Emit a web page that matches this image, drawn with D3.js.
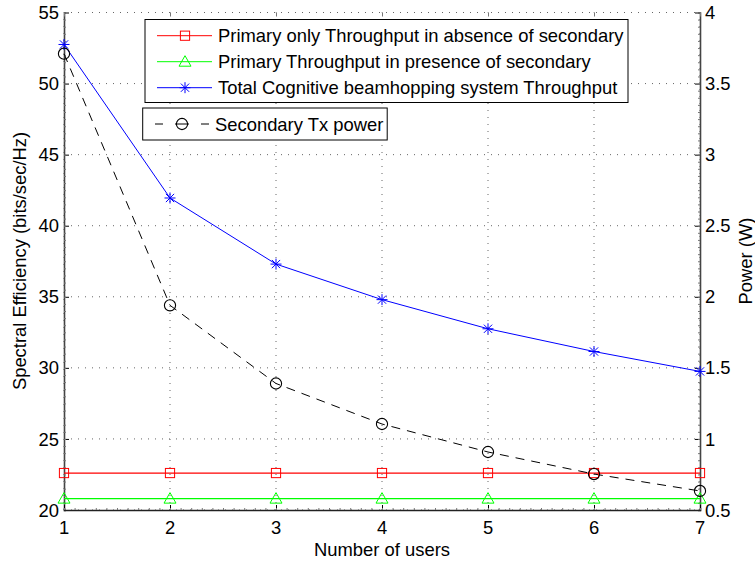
<!DOCTYPE html>
<html><head><meta charset="utf-8">
<script src="https://cdn.jsdelivr.net/npm/d3@7"></script>
<style>body{margin:0;background:#fff;} text{font-family:"Liberation Sans",Arial,sans-serif;}</style>
</head><body>
<svg id="chart" width="755" height="562"></svg>
<script>
const users = [1, 2, 3, 4, 5, 6, 7];
const primaryOnly = [22.6, 22.6, 22.6, 22.6, 22.6, 22.6, 22.6];
const primaryWithSecondary = [20.8, 20.8, 20.8, 20.8, 20.8, 20.8, 20.8];
const totalCognitive = [52.75, 41.95, 37.3, 34.8, 32.75, 31.15, 29.75];
const secondaryPower = [3.71, 1.94, 1.39, 1.105, 0.908, 0.753, 0.634];
const leftTicks = [20, 25, 30, 35, 40, 45, 50, 55];
const rightTicks = [0.5, 1, 1.5, 2, 2.5, 3, 3.5, 4];
const rightTickLabels = ["0.5", "1", "1.5", "2", "2.5", "3", "3.5", "4"];
const legend1 = ["Primary only Throughput in absence of secondary", "Primary Throughput in presence of secondary", "Total Cognitive beamhopping system Throughput"];
const legend2 = ["Secondary Tx power"];

const svg = d3.select("#chart");
const L = 64, R = 700, T = 12.5, B = 510;
const x = d3.scaleLinear().domain([1, 7]).range([L, R]);
const yL = d3.scaleLinear().domain([20, 55]).range([B, T]);
const yR = d3.scaleLinear().domain([0.5, 4]).range([B, T]);

// grid
const grid = svg.append("g").attr("stroke", "#666").attr("stroke-width", 1).attr("stroke-dasharray", "1,6");
users.forEach(u => grid.append("line").attr("x1", x(u)).attr("x2", x(u)).attr("y1", B).attr("y2", T));
leftTicks.forEach(t => grid.append("line").attr("x1", L).attr("x2", R).attr("y1", yL(t)).attr("y2", yL(t)));

// axes
const ax = svg.append("g");
const fs = 18.4;
// left axis
ax.append("g").attr("transform", `translate(${L},0)`)
  .call(d3.axisRight(yL).tickValues(leftTicks).tickSize(5).tickFormat(""))
  .call(g => g.select(".domain").remove());
ax.append("g").attr("transform", `translate(${L},0)`)
  .call(d3.axisRight(yL).tickValues(d3.range(20, 55.01, 0.5)).tickSize(2).tickFormat(""))
  .call(g => g.select(".domain").attr("stroke", "#444").attr("stroke-width", 1.6))
  .selectAll(".tick line").attr("stroke", "#777");
leftTicks.forEach(t => ax.append("text").attr("x", L - 5).attr("y", yL(t)).attr("dy", "0.36em")
  .attr("text-anchor", "end").attr("font-size", fs).text(t));
// right axis
ax.append("g").attr("transform", `translate(${R},0)`)
  .call(d3.axisLeft(yR).tickValues(rightTicks).tickSize(5).tickFormat(""))
  .call(g => g.select(".domain").remove());
ax.append("g").attr("transform", `translate(${R},0)`)
  .call(d3.axisLeft(yR).tickValues(d3.range(0.5, 4.001, 0.05)).tickSize(2).tickFormat(""))
  .call(g => g.select(".domain").attr("stroke", "#444").attr("stroke-width", 1.6))
  .selectAll(".tick line").attr("stroke", "#777");
rightTicks.forEach((t, i) => ax.append("text").attr("x", R + 5).attr("y", yR(t)).attr("dy", "0.36em")
  .attr("text-anchor", "start").attr("font-size", fs).text(rightTickLabels[i]));
// bottom axis
ax.append("g").attr("transform", `translate(0,${B})`)
  .call(d3.axisTop(x).tickValues(users).tickSize(5).tickFormat(""))
  .call(g => g.select(".domain").remove());
ax.append("g").attr("transform", `translate(0,${B})`)
  .call(d3.axisTop(x).tickValues(d3.range(1, 7.001, 0.1)).tickSize(2).tickFormat(""))
  .call(g => g.select(".domain").attr("stroke", "#222").attr("stroke-width", 1.4))
  .selectAll(".tick line").attr("stroke", "#777");
users.forEach(u => ax.append("text").attr("x", x(u)).attr("y", 527).attr("dy", "0.36em")
  .attr("text-anchor", "middle").attr("font-size", fs).text(u));
// top ticks
ax.append("g").attr("transform", `translate(0,${T})`)
  .call(d3.axisBottom(x).tickValues(users).tickSize(4).tickFormat(""))
  .call(g => g.select(".domain").remove())
  .selectAll(".tick line").attr("stroke", "#777");

// titles
svg.append("text").attr("x", 382).attr("y", 549).attr("dy", "0.36em").attr("text-anchor", "middle")
  .attr("font-size", fs).text("Number of users");
svg.append("text").attr("transform", "translate(19.5,261) rotate(-90)").attr("dy", "0.36em")
  .attr("text-anchor", "middle").attr("font-size", fs).text("Spectral Efficiency (bits/sec/Hz)");
svg.append("text").attr("transform", "translate(745,261) rotate(-90)").attr("dy", "0.36em")
  .attr("text-anchor", "middle").attr("font-size", fs).text("Power (W)");

// markers
function square(g, cx, cy, c) { g.append("rect").attr("x", cx - 4.6).attr("y", cy - 4.6).attr("width", 9.2).attr("height", 9.2).attr("fill", "none").attr("stroke", c).attr("stroke-width", 1); }
function tri(g, cx, cy, c) { g.append("path").attr("d", `M${cx},${cy - 6}L${cx + 6},${cy + 4.5}L${cx - 6},${cy + 4.5}Z`).attr("fill", "none").attr("stroke", c).attr("stroke-width", 1); }
function star(g, cx, cy, c) {
  const r = 5.5;
  g.append("path").attr("d",
    `M${cx},${cy - r}V${cy + r}M${cx - r},${cy}H${cx + r}M${cx - r * 0.75},${cy - r * 0.75}L${cx + r * 0.75},${cy + r * 0.75}M${cx - r * 0.75},${cy + r * 0.75}L${cx + r * 0.75},${cy - r * 0.75}`)
    .attr("stroke", c).attr("stroke-width", 1).attr("fill", "none");
}
function circ(g, cx, cy, c) { g.append("circle").attr("cx", cx).attr("cy", cy).attr("r", 5.6).attr("fill", "none").attr("stroke", c).attr("stroke-width", 1.1); }

const plot = svg.append("g");
const lineL = d3.line().x((d, i) => x(users[i])).y(d => yL(d));
const lineR = d3.line().x((d, i) => x(users[i])).y(d => yR(d));
plot.append("path").attr("d", lineL(primaryOnly)).attr("stroke", "#ff0000").attr("fill", "none").attr("stroke-width", 1.2);
plot.append("path").attr("d", lineL(primaryWithSecondary)).attr("stroke", "#00ff00").attr("fill", "none").attr("stroke-width", 1.2);
plot.append("path").attr("d", lineL(totalCognitive)).attr("stroke", "#0000ff").attr("fill", "none").attr("stroke-width", 1);
plot.append("path").attr("d", lineR(secondaryPower)).attr("stroke", "#000").attr("fill", "none").attr("stroke-width", 1).attr("stroke-dasharray", "9,7");
users.forEach((u, i) => {
  square(plot, x(u), yL(primaryOnly[i]), "#ff0000");
  tri(plot, x(u), yL(primaryWithSecondary[i]), "#00ff00");
  star(plot, x(u), yL(totalCognitive[i]), "#0000ff");
  circ(plot, x(u), yR(secondaryPower[i]), "#000");
});

// legend 1
const lg1 = svg.append("g");
lg1.append("rect").attr("x", 145).attr("y", 19.5).attr("width", 483).attr("height", 83).attr("fill", "#fff").attr("stroke", "#000").attr("stroke-width", 1);
const legColors = ["#ff0000", "#00ff00", "#0000ff"];
const legMarks = [square, tri, star];
legend1.forEach((t, i) => {
  const yy = 35.7 + i * 26;
  lg1.append("line").attr("x1", 157).attr("x2", 212).attr("y1", yy).attr("y2", yy).attr("stroke", legColors[i]).attr("stroke-width", 1);
  legMarks[i](lg1, 185, yy, legColors[i]);
  lg1.append("text").attr("x", 218).attr("y", yy).attr("dy", "0.36em").attr("font-size", fs).text(t);
});
// legend 2
const lg2 = svg.append("g");
lg2.append("rect").attr("x", 142.7).attr("y", 108).attr("width", 244.5).attr("height", 32).attr("fill", "#fff").attr("stroke", "#000").attr("stroke-width", 1);
lg2.append("line").attr("x1", 155).attr("x2", 209).attr("y1", 124).attr("y2", 124).attr("stroke", "#000").attr("stroke-dasharray", "8,12,14,12,8");
circ(lg2, 182, 124, "#000");
lg2.append("text").attr("x", 215).attr("y", 124).attr("dy", "0.36em").attr("font-size", fs).text(legend2[0]);
</script>
</body></html>
